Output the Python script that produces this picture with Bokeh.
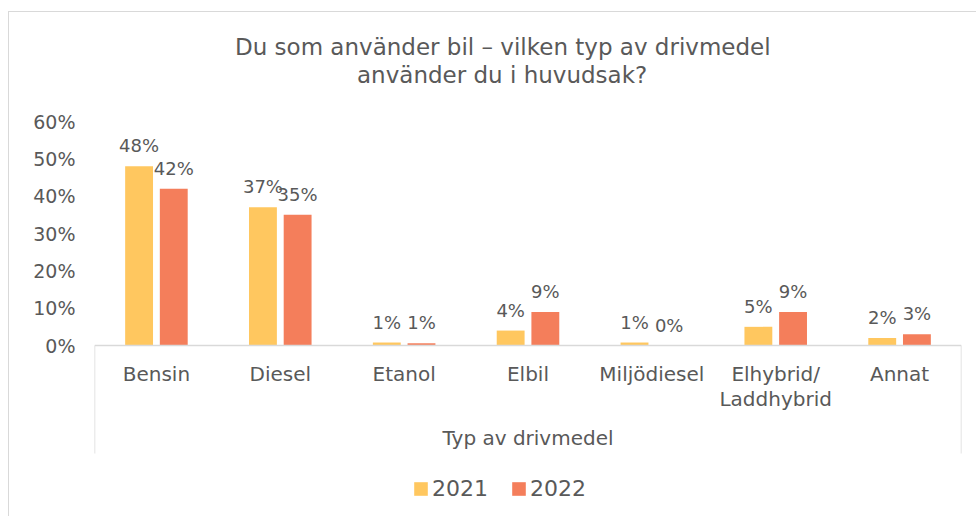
from bokeh.plotting import figure
from bokeh.models import (FactorRange, Range1d, FixedTicker, NumeralTickFormatter,
                          ColumnDataSource, Legend, LegendItem, Title)
from bokeh.transform import dodge
from bokeh.core.properties import value
from bokeh.embed import file_html
from bokeh.resources import INLINE

categories = ["Bensin", "Diesel", "Etanol", "Elbil", "Miljödiesel", "Elhybrid/\nLaddhybrid", "Annat"]
values_2021 = [0.48, 0.37, 0.008, 0.04, 0.008, 0.05, 0.02]
values_2022 = [0.42, 0.35, 0.006, 0.09, 0.0, 0.09, 0.03]
series_names = ["2021", "2022"]
y_ticks = [0.0, 0.1, 0.2, 0.3, 0.4, 0.5, 0.6]
title_lines = ["Du som använder bil – vilken typ av drivmedel", "använder du i huvudsak?"]
group_label = "Typ av drivmedel"

FONT = "DejaVu Sans"
TXT = "#595959"
C2021 = "#FFC75F"
C2022 = "#F47E5B"
GRID = "#D9D9D9"

src = ColumnDataSource(dict(
    cat=categories,
    v2021=values_2021,
    v2022=values_2022,
    l2021=[f"{round(v * 100)}%" for v in values_2021],
    l2022=[f"{round(v * 100)}%" for v in values_2022],
))

# the frame reaches down to the bottom so the category box and legend are drawn inside it
Y_BOTTOM = -0.4607
BOX_BOTTOM = -0.2893

p = figure(width=968, height=505, output_backend="svg", toolbar_location=None,
           x_range=FactorRange(factors=categories, range_padding=0),
           y_range=Range1d(Y_BOTTOM, 0.6),
           min_border_left=85, min_border_right=16, min_border_top=109, min_border_bottom=0)
p.styles = {"margin-left": "8px", "margin-top": "11px",
            "border-left": f"1px solid {GRID}", "border-top": f"1px solid {GRID}"}
p.title = None

# blank spacer between the frame and the title lines
p.add_layout(Title(text=" ", text_font_size="1px", standoff=31), "above")
# second line first (closer to the frame), then first line
for line, off in zip(reversed(title_lines), (262.5, 140.5)):
    p.add_layout(Title(text=line, align="left", text_font=FONT,
                       text_font_size="23px", text_font_style="normal", text_color=TXT,
                       offset=off, standoff=0), "above")

r1 = p.vbar(x=dodge("cat", -0.14, range=p.x_range), top="v2021", width=0.225,
            source=src, fill_color=C2021, line_color=None)
r2 = p.vbar(x=dodge("cat", 0.14, range=p.x_range), top="v2022", width=0.225,
            source=src, fill_color=C2022, line_color=None)

p.text(x=dodge("cat", -0.14, range=p.x_range), y="v2021", text="l2021", source=src,
       text_font=value(FONT), text_font_size="18px", text_color=TXT,
       text_align="center", text_baseline="bottom", y_offset=-10)
p.text(x=dodge("cat", 0.14, range=p.x_range), y="v2022", text="l2022", source=src,
       text_font=value(FONT), text_font_size="18px", text_color=TXT,
       text_align="center", text_baseline="bottom", y_offset=-10)

# side lines of the category box, at the outer edges of the first and last category
p.segment(x0=dodge("cat", -0.5, range=p.x_range), x1=dodge("cat", -0.5, range=p.x_range),
          y0=0, y1=BOX_BOTTOM, source=ColumnDataSource(dict(cat=[categories[0]])),
          line_color=GRID, line_width=1.5)
p.segment(x0=dodge("cat", 0.5, range=p.x_range), x1=dodge("cat", 0.5, range=p.x_range),
          y0=0, y1=BOX_BOTTOM, source=ColumnDataSource(dict(cat=[categories[-1]])),
          line_color=GRID, line_width=1.5)

p.xgrid.visible = False
p.ygrid.visible = False
p.outline_line_color = None

p.yaxis.ticker = FixedTicker(ticks=y_ticks)
p.yaxis.formatter = NumeralTickFormatter(format="0%")
p.yaxis.axis_line_color = None
p.yaxis.major_tick_line_color = None
p.yaxis.major_tick_out = 0
p.yaxis.minor_tick_line_color = None
p.yaxis.major_label_text_font = FONT
p.yaxis.major_label_text_font_size = "19px"
p.yaxis.major_label_text_color = TXT
p.yaxis.major_label_standoff = 19

p.xaxis.fixed_location = 0
p.xaxis.axis_line_color = GRID
p.xaxis.axis_line_width = 1.5
p.xaxis.major_tick_line_color = None
p.xaxis.major_tick_out = 0
p.xaxis.minor_tick_line_color = None
p.xaxis.major_label_text_font = FONT
p.xaxis.major_label_text_font_size = "20px"
p.xaxis.major_label_text_line_height = 1.07
p.xaxis.major_label_text_color = TXT
p.xaxis.major_label_standoff = 16
p.xaxis.axis_label = group_label
p.xaxis.axis_label_text_font = FONT
p.xaxis.axis_label_text_font_size = "20px"
p.xaxis.axis_label_text_font_style = "normal"
p.xaxis.axis_label_text_color = TXT
p.xaxis.axis_label_standoff = 12

legend = Legend(items=[LegendItem(label=series_names[0], renderers=[r1]),
                       LegendItem(label=series_names[1], renderers=[r2])],
                orientation="horizontal", location=(318, 16),
                label_text_font=FONT, label_text_font_size="22px", label_text_color=TXT,
                glyph_width=17, glyph_height=17, label_standoff=3, spacing=22,
                border_line_color=None, background_fill_alpha=0, padding=0, margin=0)
p.add_layout(legend)

open("out.html", "w").write(file_html(p, INLINE))
